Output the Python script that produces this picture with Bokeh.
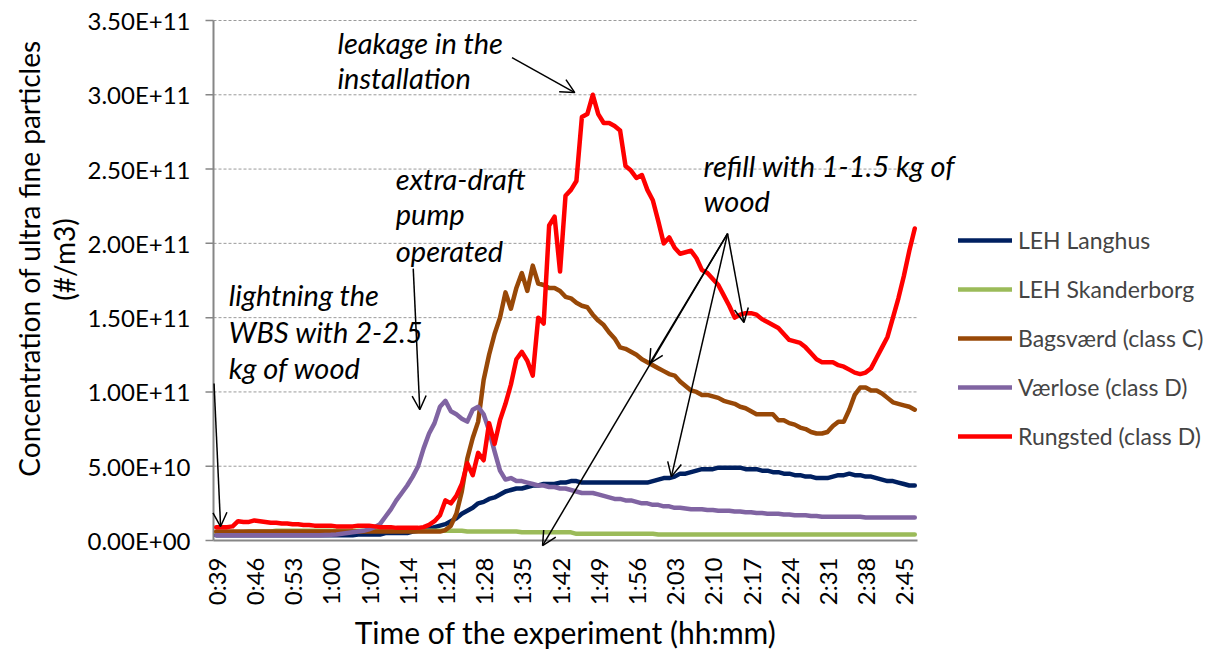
import math
from bokeh.plotting import figure
from bokeh.models import (Range1d, Legend, LegendItem, Label,
                          Arrow, OpenHead, ColumnDataSource)
from bokeh.core.properties import value
from bokeh.embed import file_html
from bokeh.resources import INLINE

# ---------------- data ----------------
# one reading per minute, 0:39 .. 2:47 (minutes since 0:00)
minutes = list(range(39, 168))

# concentrations in units of 1E9 #/m3
langhus = [3.5, 3.5, 3.5, 3.5, 3.5, 3.5, 3.5, 3.5, 3.5, 3.5,
           3.5, 3.5, 3.5, 3.5, 3.5, 3.5, 3.5, 3.5, 3.5, 3.5,
           3.5, 3.5, 3.5, 3.5, 3.5, 3.5, 4, 4, 4, 4,
           4, 5, 5, 5, 5, 5, 6, 6.5, 7, 8,
           9, 10, 11, 13, 15, 18, 20, 22, 25, 26,
           28, 29, 31, 33, 34, 35, 35, 36, 37, 37,
           38, 38, 38, 39, 39, 40, 40, 39, 39, 39,
           39, 39, 39, 39, 39, 39, 39, 39, 39, 39,
           40, 41, 42, 42, 43, 45, 45, 46, 47, 48,
           48, 48, 49, 49, 49, 49, 49, 48, 48, 48,
           47, 47, 46, 46, 45, 45, 44, 44, 43, 43,
           42, 42, 42, 43, 44, 44, 45, 44, 44, 43,
           43, 42, 41, 40, 40, 39, 38, 37, 37]

skanderborg = [5.5, 5.5, 5.5, 5.5, 5.5, 5.5, 6, 6, 6, 6,
               6, 6.5, 6.5, 6.5, 6.5, 6.5, 6.5, 6.5, 6.5, 6.5,
               6.5, 6.5, 6.5, 6.5, 6.5, 6.5, 6.5, 6.5, 6.5, 6.5,
               6.5, 6.5, 6.5, 6.5, 6.5, 6.5, 6.5, 6.5, 6.5, 6.5,
               6.5, 6.5, 6.5, 6.5, 6.5, 6.5, 6, 6, 6, 6,
               6, 6, 6, 6, 6, 6, 5.5, 5.5, 5.5, 5.5,
               5.5, 5.5, 5.5, 5.5, 5.5, 5.5, 4.5, 4.5, 4.5, 4.5,
               4.5, 4.5, 4.5, 4.5, 4.5, 4.5, 4.5, 4.5, 4.5, 4.5,
               4.5, 4, 4, 4, 4, 4, 4, 4, 4, 4,
               4, 4, 4, 4, 4, 4, 4, 4, 4, 4,
               4, 4, 4, 4, 4, 4, 4, 4, 4, 4,
               4, 4, 4, 4, 4, 4, 4, 4, 4, 4,
               4, 4, 4, 4, 4, 4, 4, 4, 4]

bagsvaerd = [6, 6, 6, 6, 6, 6, 6, 6, 6, 6,
             6, 6, 6, 6, 6, 6, 6, 6, 6, 6,
             6, 6, 6, 6, 6, 6, 6, 6, 6, 6,
             6, 6, 6, 6, 6, 6, 6, 6, 6, 6,
             6, 6, 7, 10, 18, 33, 55, 69, 80, 108,
             125, 139, 150, 167, 156, 170, 180, 168, 185, 173,
             172, 170, 170, 168, 164, 163, 160, 158, 157, 152,
             148, 145, 140, 136, 130, 129, 127, 125, 122, 120,
             118, 116, 114, 112, 111, 107, 104, 101, 100, 98,
             98, 97, 96, 94, 93, 92, 90, 89, 87, 85,
             85, 85, 85, 81, 81, 79, 78, 76, 75, 73,
             72, 72, 73, 77, 80, 80, 88, 98, 103, 103,
             101, 101, 99, 96, 93, 92, 91, 90, 88]

vaerlose = [3.5, 3.5, 3.5, 3.5, 3.5, 3.5, 3.5, 3.5, 3.5, 3.5,
            3.5, 3.5, 3.5, 3.5, 3.5, 3.5, 3.5, 3.5, 3.5, 3.5,
            3.7, 3.8, 4, 4.5, 5, 5.5, 6, 6.5, 7.5, 9,
            11, 16, 21, 27, 32, 37, 43, 50, 62, 72,
            79, 90, 94, 87, 85, 82, 80, 88, 90, 85,
            74, 60, 47, 41, 42, 40, 40, 39, 38, 37,
            37, 36, 36, 35, 35, 34, 33, 32, 32, 32,
            31, 30, 29, 28, 28, 27, 27, 26, 25, 25,
            24, 24, 23, 23, 22, 22, 21.5, 21, 21, 21,
            20.5, 20.5, 20, 20, 20, 19.5, 19.5, 19, 19, 18.5,
            18.5, 18, 18, 18, 17.5, 17.5, 17, 17, 17, 16.5,
            16.5, 16, 16, 16, 16, 16, 16, 16, 16, 15.5,
            15.5, 15.5, 15.5, 15.5, 15.5, 15.5, 15.5, 15.5, 15.5]

rungsted = [9, 9, 9, 9.5, 13, 12.5, 12.5, 13.5, 13, 12.5,
            12, 12, 11.5, 11.5, 11, 11, 10.5, 10.5, 10, 10,
            10, 10, 9.5, 9.5, 9.5, 9.5, 10, 10, 10, 9.5,
            9, 9, 9, 8.5, 8.5, 8.5, 8.5, 8.5, 9, 10.5,
            13, 17, 27, 25, 30, 38, 52, 44, 59, 54,
            79, 65, 81, 92, 105, 122, 127, 121, 111, 150,
            146, 212, 218, 181, 232, 236, 242, 285, 287, 300,
            287, 281, 281, 279, 276, 252, 249, 244, 246, 236,
            229, 215, 200, 204, 197, 193, 194, 195, 190, 182,
            180, 176, 172, 165, 158, 150, 152, 153, 153, 152,
            149, 147, 145, 143, 139, 135, 134, 133, 130, 126,
            122, 120, 120, 120, 118, 117, 115, 113, 112, 113,
            116, 123, 130, 137, 150, 163, 178, 195, 210]

series_names = ["LEH Langhus", "LEH Skanderborg", "Bagsværd (class C)",
                "Værlose (class D)", "Rungsted (class D)"]
series_values = [langhus, skanderborg, bagsvaerd, vaerlose, rungsted]
series_colors = ["#002060", "#9BBB59", "#984807", "#8064A2", "#FF0000"]

x_tick_minutes = [39, 46, 53, 60, 67, 74, 81, 88, 95, 102, 109, 116, 123,
                  130, 137, 144, 151, 158, 165]
x_tick_labels = ["0:39", "0:46", "0:53", "1:00", "1:07", "1:14", "1:21",
                 "1:28", "1:35", "1:42", "1:49", "1:56", "2:03", "2:10",
                 "2:17", "2:24", "2:31", "2:38", "2:45"]
y_max = 350000000000
y_tick_values = [0, 50000000000, 100000000000, 150000000000, 200000000000,
                 250000000000, 300000000000, 350000000000]
y_tick_labels = ["0.00E+00", "5.00E+10", "1.00E+11", "1.50E+11", "2.00E+11",
                 "2.50E+11", "3.00E+11", "3.50E+11"]

x_title = "Time of the experiment (hh:mm)"
y_title_lines = ["Concentration of ultra fine particles", "(#/m3)"]

# ---------------- layout (pixels) ----------------
FONT = "Lato"
W, H = 1227, 650
PLOT_L, PLOT_T = 213, 20      # top-left of the value area inside the canvas
PLOT_W, PLOT_H = 704, 520     # size of the value area
TXT_SHIFT = 10.5              # px the rendered text sits below its anchor

x_lo = minutes[0] - 0.5
x_hi = minutes[-1] + 0.5
ppx = PLOT_W / (x_hi - x_lo)          # px per minute
vpp = y_max / PLOT_H                  # value per px


def dx(px):
    return px / ppx


def dy(px):
    return px * vpp


x_view = (x_lo - dx(PLOT_L), x_lo + dx(W - PLOT_L))
y_view = (-dy(H - PLOT_T - PLOT_H), y_max + dy(PLOT_T))

p = figure(width=W, height=H, output_backend="svg", toolbar_location=None,
           x_range=Range1d(*x_view), y_range=Range1d(*y_view),
           min_border=0, min_border_left=0, min_border_right=0,
           min_border_top=0, min_border_bottom=0)
p.outline_line_color = None
p.background_fill_color = "white"
p.border_fill_color = "white"
p.xaxis.visible = False
p.yaxis.visible = False
p.xgrid.grid_line_color = None
p.ygrid.grid_line_color = None

AX = "#868686"
# gridlines over the value area
grid_y = [v for v in y_tick_values if v > 0]
p.segment(x0=[x_lo] * len(grid_y), x1=[x_hi] * len(grid_y), y0=grid_y, y1=grid_y,
          line_color="#9a9a9a", line_dash="3 2", line_width=1)
# axis lines and y tick marks
p.segment(x0=[x_lo], x1=[x_hi], y0=[0], y1=[0], line_color=AX, line_width=2)
p.segment(x0=[x_lo], x1=[x_lo], y0=[0], y1=[y_max], line_color=AX, line_width=2)
p.segment(x0=[x_lo - dx(8)] * len(y_tick_values), x1=[x_lo] * len(y_tick_values),
          y0=y_tick_values, y1=y_tick_values, line_color=AX, line_width=1.5)

# y tick labels
p.text(x=[x_lo - dx(23)] * len(y_tick_values), y=y_tick_values, text=y_tick_labels,
       text_font=value(FONT), text_font_size=value("24px"), text_color="black",
       text_align="right", text_baseline="middle")
# x tick labels (rotated, reading upwards)
p.text(x=x_tick_minutes, y=[-dy(17)] * len(x_tick_minutes), text=x_tick_labels,
       angle=math.pi / 2, text_font=value(FONT), text_font_size=value("24px"),
       text_color="black", text_align="right", text_baseline="middle")
# axis titles
p.text(x=[(x_lo + x_hi) / 2], y=[-dy(102 - TXT_SHIFT)], text=[x_title],
       text_font=value(FONT), text_font_size=value("30px"), text_color="black",
       text_align="center", text_baseline="alphabetic")
p.text(x=[x_lo - dx(185), x_lo - dx(150)], y=[dy(282), dy(281)], text=y_title_lines,
       angle=math.pi / 2, text_font=value(FONT), text_font_size=value("28px"),
       text_color="black", text_align="center", text_baseline="middle")

items = []
for name, vals, col in zip(series_names, series_values, series_colors):
    src = ColumnDataSource(dict(x=minutes, y=[v * 1e9 for v in vals]))
    r = p.line("x", "y", source=src, line_color=col, line_width=4.5,
               line_join="round", line_cap="round")
    items.append(LegendItem(label=name, renderers=[r]))

legend = Legend(items=items, location=(958, 200), orientation="vertical",
                glyph_width=54, glyph_height=24, label_height=24,
                label_standoff=6, spacing=21, padding=0, margin=0,
                border_line_color=None, background_fill_alpha=0,
                label_text_font=FONT, label_text_font_size="23px")
p.add_layout(legend, "center")

# annotations (text lines: x minute, baseline value)
ann_texts = ["leakage in the", "installation",
             "extra-draft", "pump", "operated",
             "lightning the", "WBS with 2-2.5", "kg of wood",
             "refill with 1-1.5 kg of", "wood"]
ann_x = [61.2, 61.2, 71.9, 71.9, 71.9, 41.3, 41.3, 41.3, 128.3, 128.3]
ann_y = [328.4e9, 304.9e9, 236.9e9, 212.7e9, 188.4e9,
         158.2e9, 133.3e9, 109.7e9, 245.6e9, 222.1e9]
for t, x, y in zip(ann_texts, ann_x, ann_y):
    p.add_layout(Label(x=x, y=y + dy(TXT_SHIFT), text=t, text_font=FONT,
                       text_font_size="29px", text_font_style="italic",
                       text_baseline="alphabetic", text_color="black"))

arrows = [  # (x_start, y_start, x_end, y_end)
    (93.2, 325e9, 104.7, 301.5e9),
    (75.1, 183e9, 76.3, 88e9),
    (38.6, 105.7e9, 39.8, 9.4e9),
    (132.7, 206.6e9, 98.8, -3.4e9),
    (132.7, 206.6e9, 118.4, 119e9),
    (132.7, 206.6e9, 122.4, 43e9),
    (132.7, 206.6e9, 135.7, 146.7e9),
]
for xs, ys, xe, ye in arrows:
    p.add_layout(Arrow(x_start=xs, y_start=ys, x_end=xe, y_end=ye,
                       line_color="black", line_width=1.5,
                       end=OpenHead(size=14, line_color="black", line_width=1.5)))

open("out.html", "w").write(file_html(p, INLINE))
